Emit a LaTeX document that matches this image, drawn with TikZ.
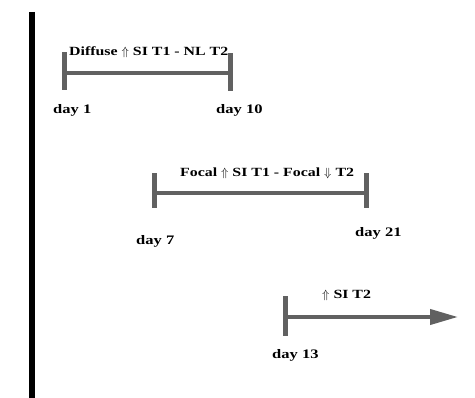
\documentclass[tikz,border=0pt]{standalone}
\usepackage{fontspec}
\setmainfont{Liberation Serif}
\newfontfamily\widefont[FakeStretch=1.27]{Liberation Serif}
\usetikzlibrary{arrows.meta}
\begin{document}
\begin{tikzpicture}[x=1pt,y=-1pt,
  bar/.style={draw=black!62,line width=4pt},
  tick/.style={draw=black!62,line width=5pt},
  lbl/.style={anchor=base west,inner sep=0pt,font=\widefont\bfseries\fontsize{12.5}{14}\selectfont},
  daylbl/.style={anchor=base west,inner sep=0pt,font=\widefont\bfseries\fontsize{13}{15}\selectfont}]
\useasboundingbox (0,0) rectangle (475,398);
% axis
\coordinate (axT) at (32,12);
\coordinate (axB) at (32,398);
\draw[line width=6pt] (axT) -- (axB);
% bar 1
\coordinate (a1) at (64,73);
\coordinate (b1) at (230,73);
\draw[bar] (a1) -- (b1);
\draw[tick] ([yshift=-17pt]a1) -- ([yshift=21pt]a1);
\draw[tick] ([yshift=-18pt]b1) -- ([yshift=20pt]b1);
\node[lbl] (l1) at (69,56) {Diffuse $\Uparrow$ SI T1 - NL T2};
\node[daylbl] (d1) at (53,114) {day 1};
\node[daylbl] (d10) at (216,114) {day 10};
% bar 2
\coordinate (a2) at (154,193);
\coordinate (b2) at (366,193);
\draw[bar] (a2) -- (b2);
\draw[tick] ([yshift=-15pt]a2) -- ([yshift=20pt]a2);
\draw[tick] ([yshift=-15pt]b2) -- ([yshift=20pt]b2);
\node[lbl] (l2) at (180,177) {Focal $\Uparrow$ SI T1 - Focal $\Downarrow$ T2};
\node[daylbl] (d7) at (136,245) {day 7};
\node[daylbl] (d21) at (355,237) {day 21};
% bar 3
\coordinate (a3) at (285,317);
\coordinate (b3) at (458,317);
\draw[bar,-{Triangle[length=28pt,width=15pt]}] (a3) -- (b3);
\draw[tick] ([yshift=-19pt]a3) -- ([yshift=21pt]a3);
\node[lbl] (l3) at (322,299) {$\Uparrow$ SI T2};
\node[daylbl] (d13) at (272,359) {day 13};
\end{tikzpicture}
\end{document}
